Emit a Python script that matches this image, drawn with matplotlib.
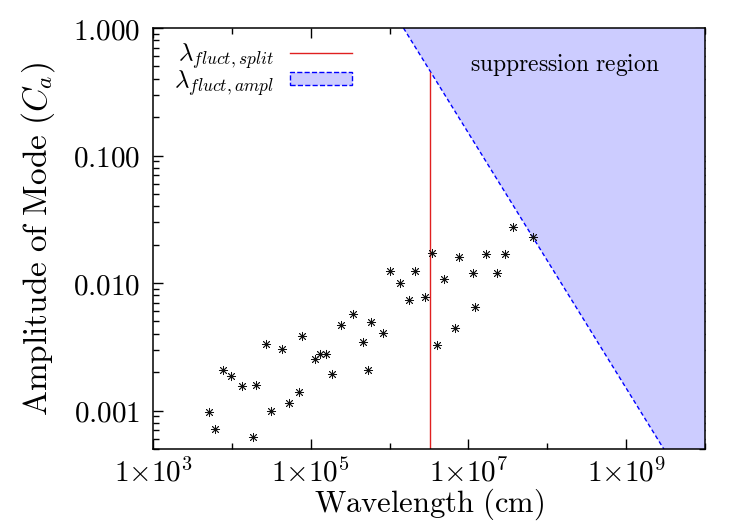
import matplotlib
matplotlib.use("Agg")
import matplotlib.pyplot as plt
import numpy as np
from matplotlib.patches import Patch
from matplotlib.lines import Line2D

plt.rcParams['mathtext.fontset'] = 'cm'
plt.rcParams['font.family'] = 'serif'
plt.rcParams['font.serif'] = ['DejaVu Serif']

# mode data
wavelength = [5190, 6050, 7660, 9770, 13580, 18540, 20230, 27100, 31330, 43550,
              52970, 70960, 78000, 111700, 133000, 155600, 187100, 245500, 345100, 465600,
              529700, 588800, 835600, 1.014e6, 1.371e6, 1.782e6, 2.104e6, 2.838e6, 3.451e6, 3.954e6,
              4.898e6, 6.81e6, 7.59e6, 1.151e7, 1.208e7, 1.667e7, 2.296e7, 2.897e7, 3.656e7, 6.607e7]
amplitude = [0.00097, 0.000718, 0.00209, 0.00186, 0.00157, 0.000617, 0.0016, 0.00335, 0.000986, 0.00304,
             0.00115, 0.0014, 0.00385, 0.00255, 0.00276, 0.00276, 0.00195, 0.0047, 0.00573, 0.00348,
             0.00207, 0.00499, 0.00409, 0.0125, 0.00995, 0.00735, 0.01242, 0.0078, 0.01734, 0.00327,
             0.01069, 0.00445, 0.01611, 0.01199, 0.00647, 0.01683, 0.01199, 0.01683, 0.02773, 0.02317]

lambda_split = 3.3e6
ampl_const = 1.5e6   # suppression boundary: C_a = ampl_const / lambda

xmin, xmax = 1e3, 1e10
ymin, ymax = 5e-4, 1.0
xticks = [1e3, 1e5, 1e7, 1e9]
xticklabels = [r'$1{\times}10^{3}$', r'$1{\times}10^{5}$', r'$1{\times}10^{7}$', r'$1{\times}10^{9}$']
yticks = [0.001, 0.01, 0.1, 1.0]
yticklabels = [r'$0.001$', r'$0.010$', r'$0.100$', r'$1.000$']

fig = plt.figure(figsize=(7.47, 5.23), dpi=100)
ax = fig.add_axes([153/747, 1 - 449/523, (705 - 153)/747, (449 - 28)/523])

xs = np.logspace(np.log10(ampl_const), np.log10(xmax), 200)
ax.fill_between(xs, ampl_const / xs, ymax, facecolor='#ccccff', edgecolor='none', zorder=2)
ax.plot(xs, ampl_const / xs, color='blue', ls=(0, (3, 2)), lw=1, zorder=2.2)
ax.vlines(lambda_split, ymin, ampl_const / lambda_split, color='#e02020', lw=1, zorder=2.2)

ax.plot(wavelength, amplitude, ls='none', marker=(8, 2, 0), ms=6.5, mew=0.6,
        color='#111111', zorder=3)

ax.set_xscale('log')
ax.set_yscale('log')
ax.set_xlim(xmin, xmax)
ax.set_ylim(ymin, ymax)
ax.set_xticks(xticks)
ax.set_xticklabels(xticklabels)
ax.set_xticks([1e4, 1e6, 1e8, 1e10], minor=True)
ax.set_xticklabels([], minor=True)
ax.set_yticks(yticks)
ax.set_yticklabels(yticklabels)
ax.tick_params(which='both', direction='in', top=True, right=True, labelsize=21)
ax.tick_params(axis='y', pad=9)
ax.tick_params(axis='x', pad=7)
ax.tick_params(which='major', length=7, width=1)
ax.tick_params(which='minor', length=4, width=1)
for s in ax.spines.values():
    s.set_linewidth(1.1)
    s.set_zorder(4)

ax.set_xlabel(r'$\mathrm{Wavelength\ (cm)}$', fontsize=22, labelpad=-1)
ax.set_ylabel(r'$\mathrm{Amplitude\ of\ Mode\ }(C_a)$', fontsize=24, labelpad=12)

fig.text(565/747, 1 - 65/523, r'$\mathrm{suppression\ region}$', fontsize=17,
         ha='center', va='center', zorder=5)

handles = [Line2D([], [], color='#e02020', lw=1),
           Patch(facecolor='#ccccff', edgecolor='blue', ls='--', lw=1)]
labels = [r'$\lambda_{fluct,split}$', r'$\lambda_{fluct,ampl}$']
ax.legend(handles, labels, loc='upper right',
          bbox_to_anchor=((352 - 153)/552, (449 - 41)/421),
          frameon=False, markerfirst=False, fontsize=18, handlelength=2.5,
          handleheight=0.45, labelspacing=-0.12, handletextpad=0.6,
          borderpad=0, borderaxespad=0)

fig.savefig('out.png', dpi=100)
